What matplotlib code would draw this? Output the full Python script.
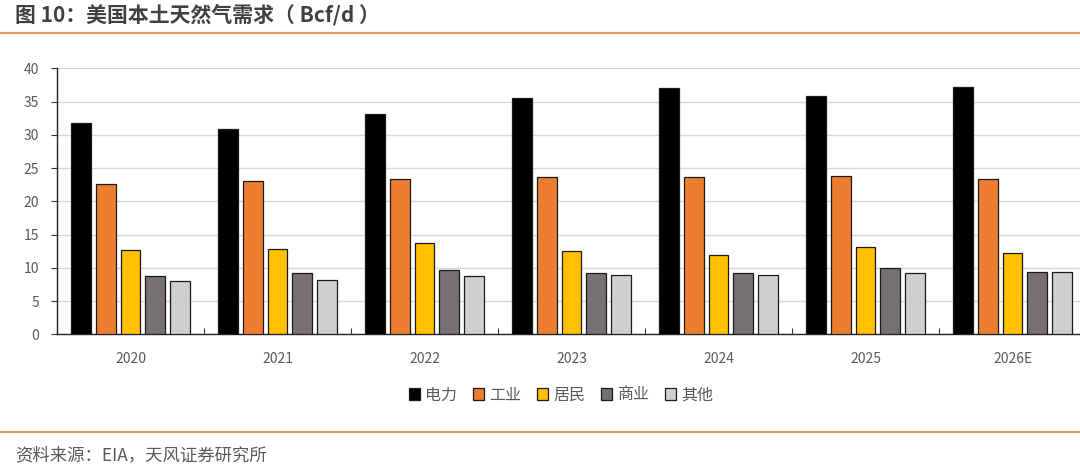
import numpy as np
import matplotlib
matplotlib.use("Agg")
from matplotlib import pyplot as plt
from matplotlib.lines import Line2D

plt.rcParams['font.family'] = ['Noto Sans CJK SC', 'DejaVu Sans']

# data (Bcf/d)
years = ['2020', '2021', '2022', '2023', '2024', '2025', '2026E']
series_names = ['电力', '工业', '居民', '商业', '其他']
power = [31.7, 30.8, 33.2, 35.6, 37.0, 35.8, 37.2]
industry = [22.6, 23.1, 23.3, 23.6, 23.6, 23.8, 23.3]
residential = [12.7, 12.9, 13.7, 12.5, 12.0, 13.2, 12.3]
commercial = [8.7, 9.2, 9.7, 9.2, 9.2, 9.9, 9.4]
other = [8.0, 8.2, 8.7, 8.9, 8.9, 9.2, 9.4]
colors = ['#000000', '#ED7D31', '#FFC000', '#767171', '#D0CECE']

fig = plt.figure(figsize=(10.8, 4.66), dpi=100)
ax = fig.add_axes([57 / 1080, 131.7 / 466, 1029 / 1080, 266 / 466])

x = np.arange(len(years))
step = 0.168
width = 0.133
all_series = [power, industry, residential, commercial, other]
for i, (vals, name, c) in enumerate(zip(all_series, series_names, colors)):
    ax.bar(x + (i - 2) * step, vals, width, color=c, edgecolor='#1a1a1a',
           linewidth=0.9, label=name, zorder=3)

ax.set_xlim(-0.5, len(years) - 0.5)
ax.set_ylim(0, 40)
ax.set_yticks(np.arange(0, 41, 5))
ax.yaxis.grid(True, color='#D9D9D9', linewidth=1, zorder=0)
ax.set_axisbelow(True)

# category boundaries as small inward ticks, labels at group centres
ax.set_xticks(np.arange(0.5, len(years) - 0.5, 1))
ax.set_xticklabels([])
ax.set_xticks(x, minor=True)
ax.set_xticklabels(years, minor=True)
ax.tick_params(axis='x', which='major', direction='in', length=4, color='#333333')
ax.tick_params(axis='x', which='minor', length=0, pad=13, labelsize=10, labelcolor='#595959')
ax.tick_params(axis='y', direction='out', length=4, color='#333333', pad=9,
               labelsize=10, labelcolor='#595959')

for s in ['top', 'right']:
    ax.spines[s].set_visible(False)
for s in ['left', 'bottom']:
    ax.spines[s].set_color('#222222')
    ax.spines[s].set_linewidth(1.0)

fig.legend(loc='center', bbox_to_anchor=(561 / 1080, 1 - 395 / 466), ncol=5, frameon=False,
           fontsize=11.5, labelcolor='#595959', handlelength=0.7, handleheight=0.7,
           handletextpad=0.3, columnspacing=1.0)

# title, rules and source
fig.text(15 / 1080, 1 - 15 / 466, '图 10：美国本土天然气需求（ Bcf/d ）', fontsize=15,
         fontweight='bold', color='#404040', va='center', ha='left')
fig.add_artist(Line2D([0, 1], [1 - 33 / 466, 1 - 33 / 466], color='#E59B5F', linewidth=1.6))
fig.add_artist(Line2D([0, 1], [1 - 432 / 466, 1 - 432 / 466], color='#E59B5F', linewidth=1.6))
fig.text(15 / 1080, 1 - 455 / 466, '资料来源：EIA，天风证券研究所', fontsize=12.5,
         color='#595959', va='center', ha='left')

fig.savefig('out.png', dpi=100)
